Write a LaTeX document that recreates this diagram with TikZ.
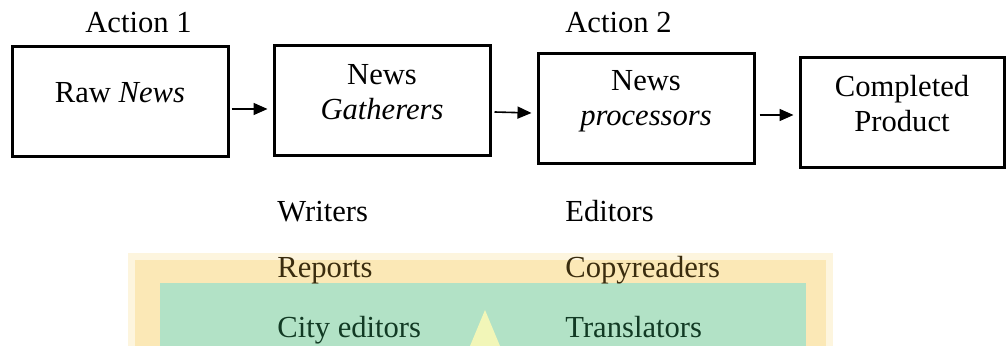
\documentclass[tikz,border=0pt]{standalone}
\usepackage{fontspec}
\setmainfont{Liberation Serif}
\usetikzlibrary{arrows.meta}
\definecolor{yellowband}{HTML}{FBE8B6}
\definecolor{greenband}{HTML}{B2E2C6}
\definecolor{spike}{HTML}{F2F6B8}
\definecolor{onyellow}{HTML}{3A2C0E}
\definecolor{ongreen}{HTML}{123A24}

\begin{document}
\begin{tikzpicture}[x=0.5pt,y=-0.5pt,
    font=\fontsize{15.3}{17.5}\selectfont,
    box/.style={draw,line width=1.5pt,align=center,inner sep=0pt,minimum width=108pt,minimum height=55pt},
    flow/.style={-{Triangle[length=7pt,width=6pt]},line width=0.8pt},
    head/.style={anchor=base},
    role/.style={anchor=base west,inner sep=0pt}]

  \useasboundingbox (0,0) rectangle (1006,346);

  % watermark behind the lists
  \fill[yellowband!45] (128,253) rectangle (833,346);
  \fill[yellowband] (135,260) rectangle (826,346);
  \fill[greenband] (160,283) rectangle (806,346);
  \fill[spike] (485,310) -- (500,346) -- (470,346) -- cycle;

  \node[box,text height=7pt,text depth=6pt] (raw) at (120,102) {Raw \textit{News}};
  \node[box,text height=26pt,text depth=7pt] (gath) at (382,101) {News\\\textit{Gatherers}};
  \node[box,text height=25pt,text depth=7.5pt] (proc) at (646,108.5) {News\\\textit{processors}};
  \node[box,minimum width=102pt,text height=26pt,text depth=7pt] (prod) at (902,113) {Completed\\Product};

  \node[head] (act1) at (138.5,33) {Action 1};
  \node[head] (act2) at (618.5,33) {Action 2};

  \node[role] (writers) at (277,222) {Writers};
  \node[role] (editors) at (565,222) {Editors};
  \node[role,text=onyellow] (reports) at (277,278) {Reports};
  \node[role,text=onyellow] (copyr) at (565,278) {Copyreaders};
  \node[role,text=ongreen] (city) at (277,338) {City editors};
  \node[role,text=ongreen] (transl) at (565,338) {Translators};

  \draw[flow] ([shift={(2,7)}]raw.east) -- ([shift={(-5,8)}]gath.west);
  \draw[flow] ([shift={(3,11)}]gath.east) -- ([shift={(-5,4.5)}]proc.west);
  \draw[flow] ([shift={(4,6.5)}]proc.east) -- ([shift={(-5,2)}]prod.west);

\end{tikzpicture}
\end{document}
